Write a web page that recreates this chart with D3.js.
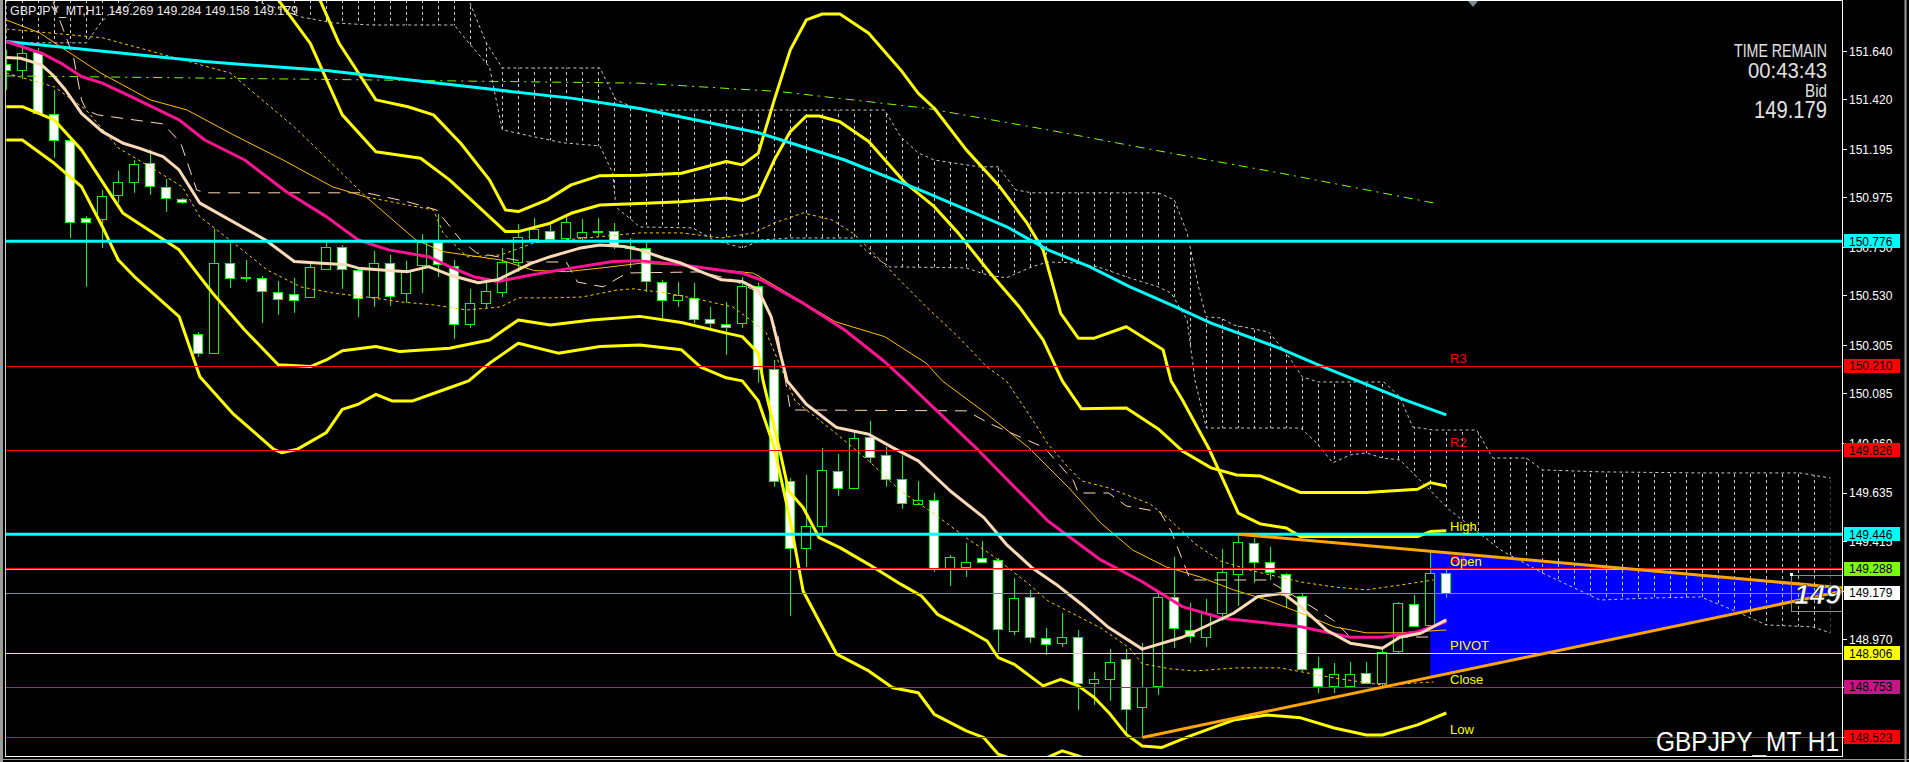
<!DOCTYPE html>
<meta charset="utf-8">
<script src="https://d3js.org/d3.v7.min.js"></script>
<style>
  body { margin: 0; background: #000; }
  svg { display: block; }
</style>
<div id="chart"></div>
<script>
// GBPJPY_MT H1 candles, one per bar index 0..90
const candleOpen = [151.581,151.551,151.635,151.354,151.236,150.882,150.877,150.987,151.046,151.132,
  151.023,150.968,150.355,150.269,150.678,150.614,150.610,150.546,150.537,150.523,
  150.651,150.750,150.646,150.523,150.678,150.541,150.669,150.773,150.664,150.401,
  150.496,150.546,150.682,150.787,150.823,150.791,150.796,150.819,150.823,150.746,
  150.746,150.591,150.510,150.519,150.423,150.401,150.405,150.573,150.196,149.688,
  149.384,149.483,149.733,149.656,149.888,149.806,149.697,149.583,149.602,149.293,
  149.297,149.338,149.329,149.007,149.161,148.975,148.952,148.979,148.770,148.789,
  148.879,148.662,148.757,149.161,149.011,148.979,149.088,149.265,149.406,149.320,
  149.265,149.166,148.839,148.757,148.757,148.816,148.770,148.916,149.129,149.034,149.269];
const candleHigh = [151.645,151.675,151.654,151.463,151.254,150.891,151.009,151.096,151.145,151.191,
  151.059,150.973,150.364,150.832,150.769,150.691,150.619,150.596,150.610,150.678,
  150.773,150.759,150.655,150.732,150.714,150.687,150.809,150.900,150.691,150.560,
  150.591,150.746,150.855,150.882,150.850,150.900,150.877,150.882,150.859,150.791,
  150.769,150.601,150.591,150.587,150.478,150.501,150.614,150.587,150.237,149.701,
  149.715,149.838,149.810,149.910,149.960,149.842,149.806,149.688,149.633,149.352,
  149.406,149.415,149.338,149.247,149.193,149.020,149.088,149.011,148.820,148.925,
  148.925,148.952,149.179,149.343,149.134,149.152,149.379,149.446,149.429,149.388,
  149.270,149.175,148.889,148.861,148.866,148.866,148.934,149.138,149.170,149.365,149.284];
const candleLow = [151.463,151.512,151.350,151.155,150.791,150.569,150.746,150.950,150.996,150.987,
  150.909,150.946,150.251,150.265,150.564,150.591,150.405,150.442,150.451,150.519,
  150.646,150.560,150.432,150.478,150.482,150.496,150.541,150.614,150.333,150.383,
  150.473,150.523,150.637,150.782,150.773,150.782,150.773,150.796,150.741,150.655,
  150.546,150.423,150.478,150.405,150.369,150.260,150.383,150.133,149.661,149.075,
  149.297,149.452,149.620,149.651,149.770,149.661,149.561,149.579,149.275,149.211,
  149.252,149.315,148.911,148.988,148.952,148.898,148.934,148.648,148.671,148.689,
  148.543,148.523,148.716,148.929,148.952,148.934,149.052,149.120,149.225,149.238,
  149.111,148.825,148.725,148.725,148.757,148.770,148.752,148.907,149.029,149.034,149.158];
const candleClose = [151.554,151.630,151.358,151.236,150.864,150.864,150.982,151.046,151.127,151.027,
  150.973,150.955,150.269,150.678,150.610,150.610,150.551,150.514,150.510,150.660,
  150.750,150.651,150.519,150.678,150.528,150.646,150.773,150.673,150.401,150.496,
  150.551,150.682,150.796,150.832,150.787,150.864,150.819,150.823,150.755,150.755,
  150.596,150.510,150.532,150.423,150.405,150.387,150.573,150.196,149.688,149.384,
  149.483,149.738,149.656,149.883,149.797,149.697,149.588,149.602,149.293,149.343,
  149.320,149.320,149.016,149.157,148.979,148.948,148.979,148.770,148.789,148.866,
  148.652,148.752,149.161,149.020,148.984,149.088,149.275,149.411,149.320,149.275,
  149.170,148.834,148.757,148.811,148.811,148.770,148.911,149.134,149.029,149.270,149.179];

// indicator lines as [bar index, price]
const maSlow = [[0,151.683],[12.4,151.592],[20,151.551],[25.1,151.509],[30.2,151.467],[35.3,151.426],[39.6,151.379],
  [47,151.269],[52.4,151.145],[57.5,150.997],[62.5,150.843],[65.1,150.737],[67.7,150.661],[70.2,150.570],
  [72.8,150.487],[75.3,150.404],[79.6,150.290],[82,150.215],[87.4,150.056],[90,149.988]];
const maMid = [[0,151.683],[2.2,151.630],[3.4,151.585],[4.7,151.524],[6,151.494],[7.8,151.433],[10.8,151.327],
  [12.4,151.236],[14.9,151.145],[17.5,151.001],[20,150.888],[22,150.782],[23.9,150.737],[26.4,150.706],
  [27.7,150.661],[29.2,150.615],[30.7,150.593],[32.8,150.623],[35.3,150.654],[37.9,150.684],[39.6,150.687],
  [42.2,150.669],[46,150.631],[47.2,150.600],[49.8,150.495],[52.4,150.373],[54.9,150.229],[56.2,150.142],
  [60.8,149.824],[65.1,149.506],[68.4,149.329],[71,149.230],[73.5,149.117],[76,149.064],[80.9,149.026],
  [84,148.978],[86,148.978],[88.2,149.003],[90,149.049]];
const maFast = [[0,151.610],[0.9,151.607],[2.2,151.577],[2.9,151.531],[3.7,151.463],[4.7,151.357],[6,151.274],
  [7.3,151.221],[8.3,151.199],[9.8,151.160],[10.8,151.100],[12.1,150.949],[13.6,150.888],[16.2,150.782],
  [18,150.684],[19.7,150.676],[21.3,150.669],[22,150.654],[23.9,150.643],[25.1,150.638],[26.4,150.661],
  [27.7,150.623],[29.5,150.588],[30.7,150.601],[32.8,150.676],[34,150.706],[35.8,150.744],[37.1,150.759],
  [38.6,150.752],[39.6,150.737],[41.1,150.699],[42.2,150.676],[43.4,150.638],[44.7,150.601],[46,150.593],
  [47,150.555],[47.8,150.434],[48.8,150.142],[50,150.036],[51.9,149.930],[53.9,149.900],[55.4,149.839],
  [57,149.779],[59,149.642],[61.1,149.521],[62.5,149.400],[64.1,149.294],[65.6,149.219],[67.2,149.128],
  [68.9,149.022],[71,148.924],[73.5,148.978],[76.7,149.087],[78.2,149.162],[79.8,149.178],[81,149.110],
  [82.5,149.011],[84,148.951],[86,148.928],[87.1,148.978],[88.4,148.996],[90,149.057]];
const maThin = [[0,151.781],[2.1,151.722],[3.2,151.668],[5.9,151.540],[9,151.418],[11.3,151.372],[14.2,151.259],
  [17.3,151.145],[20.4,151.023],[22.5,150.977],[25.6,150.782],[27.3,150.729],[30.9,150.691],[33,150.643],
  [35,150.638],[37.1,150.654],[39.6,150.676],[42.2,150.669],[44.7,150.646],[46.7,150.631],[48.5,150.555],
  [51.8,150.411],[54.9,150.343],[57.5,150.222],[58.5,150.142],[61.3,149.991],[63.9,149.839],[66.4,149.657],
  [68.4,149.497],[70.4,149.374],[72.5,149.297],[74.6,149.252],[76.7,149.193],[78.8,149.147],[80.9,149.088],
  [83,149.025],[85,148.998],[87.1,148.998],[90,149.011]];
const dotUpper = [[0,151.740],[6,151.700],[14,151.540],[18,151.295],[22.5,150.977],[26.7,150.918],[27.3,150.814],
  [28.8,150.705],[30.9,150.714],[33,150.769],[39.6,150.814],[42.2,150.814],[44.7,150.791],[46.7,150.814],
  [48,150.859],[49.8,150.905],[51.6,150.873],[52.9,150.814],[54.2,150.723],[55.4,150.632],[57.5,150.478],
  [59.5,150.342],[61.3,150.205],[62.5,150.142],[63.9,149.992],[65.1,149.856],[66.4,149.747],[67.2,149.688],
  [68.9,149.656],[71.5,149.583],[72.8,149.506],[74.3,149.402],[75.9,149.324],[77.9,149.279],[80.9,149.229],
  [83,149.206],[85,149.193],[87.1,149.215],[89.2,149.238]];
const dotLower = [[0,151.540],[3,151.477],[5,151.372],[7,151.200],[9.5,151.091],[11,151.023],[12.1,150.887],
  [14.2,150.769],[16.3,150.646],[18.4,150.569],[20.4,150.541],[22.5,150.523],[24.6,150.501],[26.7,150.487],
  [28.8,150.464],[30.9,150.478],[32,150.519],[34,150.519],[36,150.523],[38.2,150.555],[39.2,150.560],
  [41.3,150.541],[43.4,150.510],[45.4,150.478],[46.5,150.419],[47.5,150.360],[49.3,150.051],[51.9,149.901],
  [53.9,149.779],[55.9,149.642],[58,149.538],[60,149.429],[61.5,149.356],[63.9,149.220],[65.1,149.143],
  [66.7,149.084],[68.4,149.020],[70.2,148.929],[71,148.857],[72.8,148.834],[74.3,148.825],[76.9,148.839],
  [79.6,148.839],[81.3,148.816],[83,148.793],[86,148.761],[89.2,148.775]];
const kijun = [[2.5,151.950],[3.4,151.768],[4.2,151.613],[4.7,151.418],[5,151.372],[5.7,151.350],[9.8,151.309],
  [10.9,151.223],[11.9,151.009],[12.4,150.996],[22.5,150.996],[25.1,150.955],[26.9,150.918],[28.4,150.782],
  [29.4,150.723],[32.5,150.682],[35,150.682],[35.7,150.591],[37.3,150.569],[38.8,150.632],[43.4,150.637],
  [45.4,150.601],[47.1,150.541],[48.2,150.360],[49,150.010],[60,150.006],[61.5,149.947],[64.9,149.838],
  [66.7,149.688],[67,149.633],[68.9,149.633],[70,149.574],[72.1,149.547],[72.8,149.461],[74,149.238],
  [78.8,149.238],[80.9,149.147],[82.9,149.057],[84,148.979],[89.2,148.979]];
const limeTrend = [[0,151.527],[20,151.511],[39.6,151.494],[48.3,151.456],[57.5,151.380],[65.1,151.282],
  [72.8,151.176],[79.6,151.086],[89.5,150.946]];

// yellow bands
const bandP = [[0,152.400],[10,152.300],[15,152.076],[17,151.872],[19,151.675],[21,151.350],[23.1,151.183],
  [25.9,151.153],[27.7,151.055],[31.2,150.820],[32,150.820],[34,150.858],[35.3,150.903],[37.1,150.941],
  [39.6,150.948],[42.2,150.956],[45,150.972],[46,150.961],[47,150.987],[48,151.145],[49,151.274],[50,151.345],
  [50.8,151.345],[52.1,151.319],[53.9,151.229],[56.2,151.040],[58,150.933],[59.5,150.813],[61.5,150.631],
  [63.3,150.479],[64.8,150.328],[66,150.142],[67.2,150.015],[70,150.019],[72,149.924],[73.5,149.824],
  [75.3,149.747],[76.9,149.715],[78.4,149.710],[80.9,149.635],[85,149.635],[88.2,149.650],[89,149.680],[90,149.665]];
const bandQ = [[0,152.500],[17,152.054],[19.6,151.872],[20.8,151.675],[23.1,151.418],[25.1,151.387],[26.7,151.350],
  [28.4,151.221],[30.2,151.055],[31.2,150.918],[32,150.911],[33.8,150.964],[35.3,151.032],[37.1,151.074],
  [39.6,151.076],[42.2,151.085],[45,151.138],[46,151.123],[47,151.176],[48,151.418],[49,151.645],[50,151.781],
  [51,151.808],[52.1,151.808],[53.9,151.721],[55.9,151.554],[57,151.448],[58,151.380],[60,151.191],[62,151.032],
  [63.8,150.858],[64.8,150.737],[65.9,150.449],[67,150.336],[68,150.336],[70,150.388],[72.3,150.283],
  [72.8,150.142],[73.5,150.056],[75.2,149.829],[77,149.542],[78.4,149.492],[80,149.474],[80.9,149.435],
  [88.2,149.435],[89,149.458],[90,149.462]];
const bandR = [[0,151.387],[1,151.387],[3,151.327],[4.7,151.191],[7.3,150.903],[10.8,150.737],[12.9,150.540],
  [14.9,150.373],[17,150.215],[19,150.207],[20,150.237],[21,150.279],[23.1,150.298],[24.6,150.275],[27.7,150.290],
  [30.2,150.328],[32,150.419],[34,150.396],[36.6,150.419],[39.6,150.435],[42.2,150.407],[45,150.359],
  [46,150.343],[47,150.268],[47.3,150.142],[48.3,149.839],[48.9,149.642],[49.8,149.567],[50.8,149.430],
  [52.1,149.385],[53.9,149.309],[55.9,149.219],[57.2,149.165],[58.2,149.082],[60,149.014],[61.3,148.961],
  [62,148.885],[63,148.855],[64.8,148.757],[65.9,148.787],[67,148.757],[68,148.704],[69,148.628],[70,148.537],
  [71,148.484],[72.2,148.477],[74,148.530],[76.7,148.602],[78.8,148.625],[80.9,148.612],[83,148.566],
  [85,148.534],[86,148.534],[88.2,148.580],[90,148.634]];
const bandS = [[0,151.236],[1,151.236],[3,151.130],[4.7,151.024],[6,150.843],[7,150.691],[8,150.616],
  [10.8,150.434],[12.1,150.161],[14.2,149.991],[16.7,149.832],[17.2,149.816],[18.2,149.832],[20,149.907],
  [21,150.013],[22,150.036],[23.1,150.081],[24.1,150.051],[25.4,150.051],[27.7,150.111],[28.9,150.142],
  [30.2,150.222],[32,150.313],[34.5,150.268],[37.1,150.298],[39.6,150.305],[42.2,150.283],[43.4,150.205],
  [45,150.156],[46,150.142],[47,150.051],[48,149.839],[49,149.506],[49.8,149.188],[51.9,148.901],
  [53.9,148.825],[55.4,148.749],[57,148.726],[58,148.628],[60,148.553],[61.1,148.522],[62,148.447],
  [64,148.398],[66,148.462],[67,148.439],[70,148.353],[75,148.330],[80,148.340],[85,148.353],[90,148.398]];

// ichimoku cloud edges
const cloudUpper = [[0,152.144],[27,152.054],[28.9,151.872],[30,151.677],[31,151.563],[37.1,151.563],
  [38.1,151.418],[39.6,151.372],[54.9,151.372],[55.9,151.250],[57,151.177],[58,151.145],[60.8,151.114],
  [62,151.114],[63.1,151.009],[64.1,150.996],[72,150.996],[73,150.964],[73.8,150.814],[74.6,150.541],
  [75,150.433],[75.9,150.428],[76.7,150.396],[78.9,150.364],[80,150.269],[81,150.160],[82,150.137],
  [86.1,150.137],[87.1,150.069],[87.9,149.933],[89.2,149.919],[91.9,149.919],[92.9,149.792],[95,149.792],
  [96,149.738],[99.6,149.729],[105.9,149.724],[112.1,149.724],[114,149.701]];
const cloudLower = [[0,151.677],[5,151.677],[5.9,151.768],[6.5,151.813],[7.5,151.840],[8.2,151.881],
  [12,152.008],[15.4,151.872],[16.7,151.840],[18.4,151.795],[20.4,151.768],[22.8,151.758],[28,151.758],
  [28.9,151.677],[30.2,151.568],[31,151.282],[33,151.250],[34.8,151.223],[37.1,151.209],[37.9,151.086],
  [38.1,150.932],[39.6,150.841],[42.9,150.837],[44.2,150.782],[46,150.746],[47.2,150.782],[49,150.791],
  [52.9,150.791],[53.9,150.723],[55.2,150.660],[60,150.655],[61.3,150.623],[62.5,150.610],[64.1,150.660],
  [65.1,150.682],[66.7,150.678],[68.2,150.660],[70.2,150.610],[72,150.569],[72.8,150.541],[73.8,150.419],
  [74.3,150.142],[75,149.928],[80.9,149.928],[81.9,149.860],[82.9,149.770],[84,149.806],[85,149.815],
  [86,149.792],[87.1,149.783],[90.2,149.556],[93.4,149.374],[96,149.270],[99.6,149.147],[102.7,149.156],
  [105.9,149.161],[107.9,149.102],[110,149.034],[112.9,149.025],[114,148.998]];

// trend lines from the day's high and low
const trendHigh = [[77,149.446],[114.8,149.202]];
const trendLow = [[71,148.523],[114.8,149.188]];

// horizontal levels
const thickLevels = [150.776, 149.446];
const thinLevels = [150.210, 149.826, 149.294, 149.288, 149.179, 148.906, 148.753, 148.523];
const thinLevelColors = ["#ff0000","#ff0000","#ff0000","#7cfc00","#778899","#ffff00","#c71585","#ff0000"];
const levelTexts = ["R3","R2","High","R1","Open","PIVOT","Close","Low"];
const levelTextPrices = [150.210, 149.826, 149.446, 149.294, 149.288, 148.906, 148.753, 148.523];
const levelTextColors = ["#ff0000","#ff0000","#ffff00","#ff0000","#ffff00","#ffff00","#ffff00","#ffff00"];

// price axis
const tickValues = [151.640,151.420,151.195,150.975,150.750,150.530,150.305,150.085,149.860,149.635,149.415,149.190,148.970,148.750,148.525];
const tagPrices = [150.776, 150.210, 149.826, 149.446, 149.288, 149.179, 148.906, 148.753, 148.523];
const tagColors = ["#00ffff","#ff0000","#ff0000","#00ffff","#7cfc00","#ffffff","#ffff00","#c71585","#ff0000"];

const headerText = "GBPJPY_MT,H1  149.269 149.284 149.158 149.179";
const infoLines = ["TIME REMAIN", "00:43:43", "Bid", "149.179"];

const W = 1909, H = 762;
const plot = {left: 6, right: 1842, top: 0, bottom: 756};

const svg = d3.select("#chart").append("svg")
  .attr("width", W).attr("height", H)
  .style("background", "#000");

const x = d3.scaleLinear().domain([0, 90]).range([6.3, 1446.3]);
const y = d3.scaleLinear().domain([151.640, 148.970]).range([51, 639]);

const defs = svg.append("defs");
defs.append("clipPath").attr("id", "plotClip").append("rect")
  .attr("x", plot.left).attr("y", plot.top)
  .attr("width", plot.right - plot.left).attr("height", plot.bottom - plot.top);

const line = d3.line().x(d => x(d[0])).y(d => y(d[1]));
const g = svg.append("g").attr("clip-path", "url(#plotClip)");

function drawLine(data, color, width, dash) {
  g.append("path")
    .attr("d", line(data))
    .attr("fill", "none")
    .attr("stroke", color)
    .attr("stroke-width", width)
    .attr("stroke-dasharray", dash || null)
    .attr("stroke-linejoin", "round");
}

// blue wedge between the trend lines
defs.append("clipPath").attr("id", "wedgeClip").append("path")
  .attr("d", line([trendHigh[0], trendHigh[1], trendLow[1], trendLow[0]]) + "Z");
g.append("g").attr("clip-path", "url(#wedgeClip)").append("rect")
  .attr("x", x(89)).attr("y", 0)
  .attr("width", x(114.8) - x(89)).attr("height", H)
  .attr("fill", "#0000ff");

// cloud: dotted hatch at every bar, clipped to the area between the spans
defs.append("clipPath").attr("id", "cloudClip").append("path")
  .attr("d", line(cloudUpper.concat(cloudLower.slice().reverse())) + "Z");
g.append("g").attr("clip-path", "url(#cloudClip)")
  .selectAll("line").data(d3.range(0, 115)).join("line")
    .attr("x1", d => Math.round(x(d)) + 0.5)
    .attr("x2", d => Math.round(x(d)) + 0.5)
    .attr("y1", 0).attr("y2", H)
    .attr("stroke", "#c8c8c8")
    .attr("stroke-dasharray", "3,3");
drawLine(cloudUpper, "#c8c8c8", 1, "3,3");
drawLine(cloudLower, "#c8c8c8", 1, "3,3");

// candles
const bars = candleOpen.map((o, i) => ({i, o, h: candleHigh[i], l: candleLow[i], c: candleClose[i]}));
const cg = g.append("g");
cg.selectAll("line").data(bars).join("line")
  .attr("x1", d => Math.round(x(d.i)) + 0.5)
  .attr("x2", d => Math.round(x(d.i)) + 0.5)
  .attr("y1", d => y(d.h))
  .attr("y2", d => y(d.l))
  .attr("stroke", "#00ff00");
cg.selectAll("rect").data(bars).join("rect")
  .attr("x", d => Math.round(x(d.i)) - 4.5)
  .attr("width", 9)
  .attr("y", d => Math.round(y(Math.max(d.o, d.c))) + 0.5)
  .attr("height", d => Math.max(1, Math.round(Math.abs(y(d.o) - y(d.c)))))
  .attr("fill", d => d.c < d.o ? "#ffffff" : "#000000")
  .attr("stroke", "#00ff00");

// thin lines
drawLine(limeTrend, "#7fff00", 1, "9,5,2,5");
drawLine(kijun, "#ffdab9", 1, "12,8");
drawLine(dotUpper, "#ffc800", 1, "3,3");
drawLine(dotLower, "#ffc800", 1, "3,3");
drawLine(maThin, "#ffc000", 1);

// bands and moving averages
[bandP, bandQ, bandR, bandS].forEach(b => drawLine(b, "#ffff00", 3));
drawLine(maSlow, "#00ffff", 3);
drawLine(maMid, "#ff1493", 3);
drawLine(maFast, "#ffdab9", 3);

// horizontal levels
thinLevels.forEach((p, i) => {
  g.append("line")
    .attr("x1", plot.left).attr("x2", plot.right)
    .attr("y1", Math.round(y(p)) + 0.5).attr("y2", Math.round(y(p)) + 0.5)
    .attr("stroke", thinLevelColors[i]).attr("stroke-width", 1);
});
thickLevels.forEach(p => {
  g.append("line")
    .attr("x1", plot.left).attr("x2", plot.right)
    .attr("y1", y(p)).attr("y2", y(p))
    .attr("stroke", "#00ffff").attr("stroke-width", 3);
});

// orange trend lines
drawLine(trendHigh, "#ffa500", 3);
drawLine(trendLow, "#ffa500", 3);

// level names
levelTexts.forEach((t, i) => {
  g.append("text")
    .attr("x", 1450).attr("y", y(levelTextPrices[i]) - 3)
    .attr("fill", levelTextColors[i])
    .style("font", "13px 'Liberation Sans', Arial, sans-serif")
    .text(t);
});

// current price marker
g.append("rect").attr("x", 1791.5).attr("y", 575.5).attr("width", 60).attr("height", 36)
  .attr("fill", "none").attr("stroke", "#8c8c8c");
g.append("rect").attr("x", 1790).attr("y", 573).attr("width", 3).attr("height", 3).attr("fill", "#fff");
g.append("text")
  .attr("x", 1794).attr("y", 604)
  .attr("fill", "#fff").attr("stroke", "#000").attr("stroke-width", 0.6)
  .style("font", "italic bold 28px 'Liberation Sans', Arial, sans-serif")
  .text("149");

// info texts
g.append("text").attr("x", 10).attr("y", 15)
  .attr("xml:space", "preserve")
  .attr("fill", "#e8e8e8").style("white-space", "pre")
  .attr("textLength", 288).attr("lengthAdjust", "spacingAndGlyphs")
  .style("font", "12.5px 'Liberation Sans', Arial, sans-serif")
  .text(headerText);

const infoFmt = [
  {y: 57, size: 19, w: 93},
  {y: 78, size: 22, w: 79},
  {y: 97, size: 18, w: 22},
  {y: 118, size: 23, w: 73}
];
infoLines.forEach((t, i) => {
  svg.append("text")
    .attr("x", 1827).attr("y", infoFmt[i].y)
    .attr("text-anchor", "end")
    .attr("fill", "#e0e0e0")
    .attr("textLength", infoFmt[i].w).attr("lengthAdjust", "spacingAndGlyphs")
    .style("font", infoFmt[i].size + "px 'Liberation Sans Narrow', 'Liberation Sans', Arial, sans-serif")
    .text(t);
});

svg.append("text")
  .attr("x", 1656).attr("y", 751)
  .attr("fill", "#fff")
  .attr("textLength", 183).attr("lengthAdjust", "spacingAndGlyphs")
  .style("font", "27px 'Liberation Sans', Arial, sans-serif")
  .text("GBPJPY_MT H1");

// shift marker
svg.append("path").attr("d", "M1468,1L1478,1L1473,7Z").attr("fill", "#778899");

// frame
svg.append("line").attr("x1", 1.5).attr("x2", 1.5).attr("y1", 0).attr("y2", H).attr("stroke", "#9a9a9a").attr("stroke-width", 3);
svg.append("line").attr("x1", 5.5).attr("x2", 5.5).attr("y1", 0).attr("y2", plot.bottom).attr("stroke", "#d0d0d0");
svg.append("line").attr("x1", 5).attr("x2", plot.right + 1).attr("y1", 0.5).attr("y2", 0.5).attr("stroke", "#fff");
svg.append("line").attr("x1", plot.right + 0.5).attr("x2", plot.right + 0.5).attr("y1", 0).attr("y2", plot.bottom + 1).attr("stroke", "#fff");
svg.append("line").attr("x1", 5).attr("x2", plot.right + 1).attr("y1", plot.bottom + 0.5).attr("y2", plot.bottom + 0.5).attr("stroke", "#fff");
svg.append("line").attr("x1", 0).attr("x2", W).attr("y1", 759.5).attr("y2", 759.5).attr("stroke", "#9a9a9a");
svg.append("line").attr("x1", 1905.5).attr("x2", 1905.5).attr("y1", 0).attr("y2", H).attr("stroke", "#9a9a9a").attr("stroke-width", 2);

// price axis
const axis = svg.append("g");
axis.selectAll("line").data(tickValues).join("line")
  .attr("x1", plot.right + 1).attr("x2", plot.right + 5)
  .attr("y1", d => Math.round(y(d)) + 0.5).attr("y2", d => Math.round(y(d)) + 0.5)
  .attr("stroke", "#fff");
axis.selectAll("text").data(tickValues).join("text")
  .attr("x", 1849).attr("y", d => y(d) + 4.5)
  .attr("fill", "#fff")
  .style("font", "12px 'Liberation Sans', Arial, sans-serif")
  .text(d => d.toFixed(3));

const tags = svg.append("g");
tagPrices.forEach((p, i) => {
  tags.append("rect")
    .attr("x", 1844).attr("y", Math.round(y(p)) - 7)
    .attr("width", 56).attr("height", 14)
    .attr("fill", tagColors[i]);
  tags.append("text")
    .attr("x", 1849).attr("y", y(p) + 4.5)
    .attr("fill", "#000")
    .style("font", "12px 'Liberation Sans', Arial, sans-serif")
    .text(p.toFixed(3));
});
</script>
